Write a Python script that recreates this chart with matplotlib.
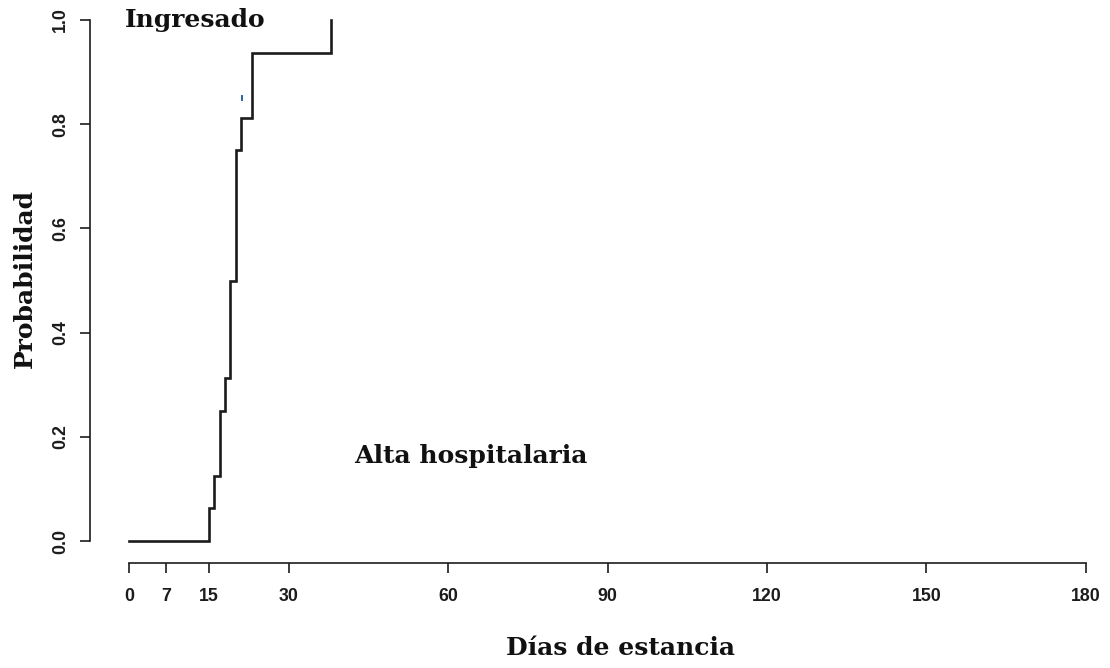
import matplotlib
matplotlib.use("Agg")
import matplotlib.pyplot as plt

# Kaplan-Meier style cumulative probability of discharge
days = [0, 15, 16, 17, 18, 19, 20, 21, 23, 38]
prob = [0.0, 0.0625, 0.125, 0.25, 0.3125, 0.5, 0.75, 0.8125, 0.9375, 1.0]
censor_days = [21.2]
censor_prob = [0.85]

x_ticks = [0, 7, 15, 30, 60, 90, 120, 150, 180]
y_ticks = [0.0, 0.2, 0.4, 0.6, 0.8, 1.0]
y_tick_labels = ["0.0", "0.2", "0.4", "0.6", "0.8", "1.0"]

W, H = 1110, 668
DPI = 100
fig = plt.figure(figsize=(W / DPI, H / DPI), dpi=DPI)
fig.patch.set_facecolor("white")

# axes frame in pixel coordinates
x0_px, x1_px = 129.3, 1085.7
y0_px, y1_px = 541.0, 20.0
ax = fig.add_axes([x0_px / W, (H - y0_px) / H,
                   (x1_px - x0_px) / W, (y0_px - y1_px) / H])
ax.set_xlim(0, 180)
ax.set_ylim(0, 1)

ax.step(days, prob, where="post", color="#1c1c1c", lw=1.9,
        clip_on=False, solid_joinstyle="miter")
ax.plot(censor_days, censor_prob, marker="|", ms=4, mew=1.4,
        color="#2f5fa0", linestyle="none", clip_on=False)

for s in ("top", "right"):
    ax.spines[s].set_visible(False)
px2pt = 72.0 / DPI
ax.spines["left"].set_position(("outward", (x0_px - 90.0) * px2pt))
ax.spines["bottom"].set_position(("outward", (562.7 - y0_px) * px2pt))
ax.spines["left"].set_bounds(0, 1)
ax.spines["bottom"].set_bounds(0, 180)
for s in ("left", "bottom"):
    ax.spines[s].set_linewidth(1.2)
    ax.spines[s].set_color("#1c1c1c")

ax.set_xticks(x_ticks)
ax.set_xticklabels([str(t) for t in x_ticks])
ax.set_yticks(y_ticks)
ax.set_yticklabels(y_tick_labels)
ax.tick_params(axis="both", direction="out", length=7.2, width=1.2,
               color="#1c1c1c", labelsize=12.8, labelcolor="#1c1c1c")
ax.tick_params(axis="x", pad=11)
ax.tick_params(axis="y", pad=8, labelrotation=90)
for lab in ax.get_xticklabels() + ax.get_yticklabels():
    lab.set_fontfamily("Liberation Sans")
    lab.set_fontweight("bold")
for lab in ax.get_yticklabels():
    lab.set_verticalalignment("center")

serif = dict(family="DejaVu Serif", weight="bold", color="#111111")

def fig_text(xp, yp, s, size, **kw):
    fig.text(xp / W, 1 - yp / H, s, fontsize=size, ha="center",
             va="center", **serif, **kw)

fig_text(621, 648, "Días de estancia", 18)
fig_text(25, 279, "Probabilidad", 18, rotation=90)

ax.text(12.4, 1.0, "Ingresado", fontsize=18, ha="center", va="center",
        **serif)
ax.text(64.3, 0.163, "Alta hospitalaria", fontsize=18, ha="center",
        va="center", **serif)

fig.savefig("out.png", dpi=DPI, facecolor="white")
